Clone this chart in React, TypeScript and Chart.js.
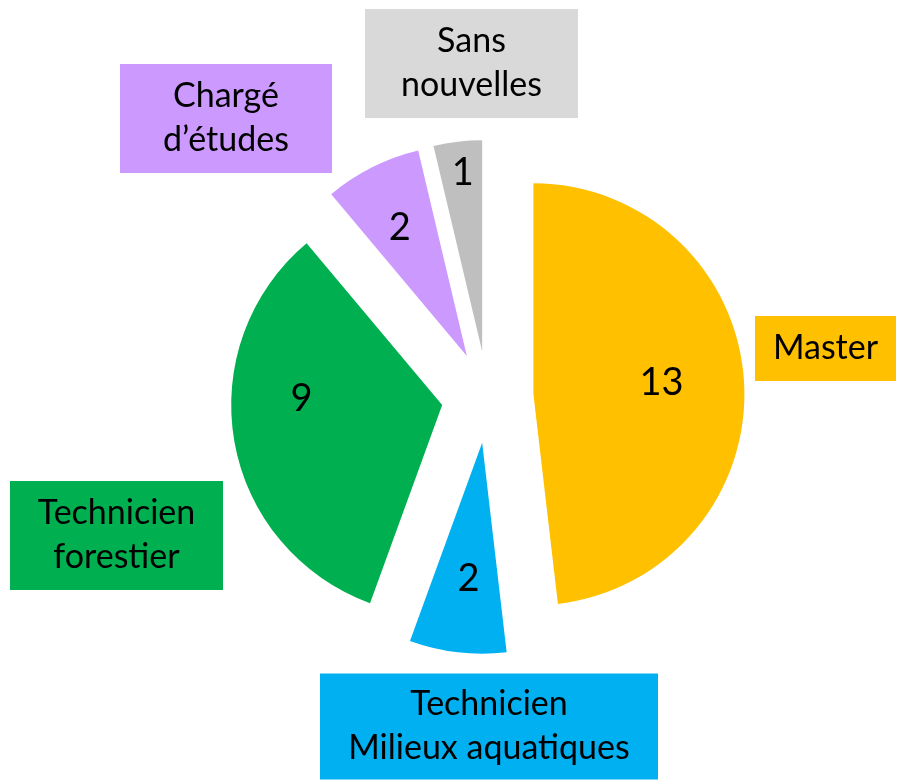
import React, { useEffect, useRef } from "react";
import { Chart, registerables } from "chart.js";

Chart.register(...registerables);

// ---- data ----
const categories = [
  "Master",
  "Technicien\nMilieux aquatiques",
  "Technicien\nforestier",
  "Chargé\nd’études",
  "Sans\nnouvelles",
];
const values = [13, 2, 9, 2, 1];

// ---- styles ----
const sliceColors = ["#FFC000", "#00B0F0", "#00B050", "#CC99FF", "#BFBFBF"];
const boxColors = ["#FFC000", "#00B0F0", "#00B050", "#CC99FF", "#D9D9D9"];
const EXPLODE = 46; // px, radial explosion of every slice
const FONT = "Lato, 'Noto Sans', sans-serif";
const LABEL_SIZE = 34;
const VALUE_SIZE = 38;
const LINE_H = 44;
// value label placement: fraction of radius, angular tweak (deg)
const valuePlacement = [
  { r: 0.61, da: -2 },
  { r: 0.65, da: -1 },
  { r: 0.667, da: 12.5 },
  { r: 0.686, da: -1 },
  { r: 0.85, da: 0.5 },
];
// category box placement relative to the pie centre (centre dx, dy, w, h)
const boxPlacement = [
  { dx: 338, dy: -48.5, w: 141, h: 65 },
  { dx: 1.5, dy: 329.5, w: 338, h: 106 },
  { dx: -371, dy: 138.5, w: 213, h: 109 },
  { dx: -261.5, dy: -278.5, w: 212, h: 109 },
  { dx: -16, dy: -333.5, w: 213, h: 109 },
];

const explodePlugin = {
  id: "explodeLabels",
  beforeDatasetsDraw(chart: any) {
    const meta = chart.getDatasetMeta(0);
    const a = chart.chartArea;
    const cx = (a.left + a.right) / 2;
    const cy = (a.top + a.bottom) / 2;
    meta.data.forEach((el: any) => {
      const mid = (el.startAngle + el.endAngle) / 2;
      el.x = cx + Math.cos(mid) * EXPLODE;
      el.y = cy + Math.sin(mid) * EXPLODE;
    });
  },
  afterDatasetsDraw(chart: any) {
    const ctx = chart.ctx;
    const meta = chart.getDatasetMeta(0);
    const a = chart.chartArea;
    const cx = (a.left + a.right) / 2;
    const cy = (a.top + a.bottom) / 2;
    ctx.save();
    ctx.textAlign = "center";
    ctx.textBaseline = "middle";
    ctx.fillStyle = "#000";
    meta.data.forEach((el: any, i: number) => {
      const p = valuePlacement[i];
      const mid = (el.startAngle + el.endAngle) / 2 + (p.da * Math.PI) / 180;
      const r = el.outerRadius * p.r;
      ctx.font = `${VALUE_SIZE}px ${FONT}`;
      ctx.fillStyle = "#000";
      ctx.fillText(String(values[i]), el.x + Math.cos(mid) * r, el.y + Math.sin(mid) * r);
    });
    categories.forEach((label, i) => {
      const b = boxPlacement[i];
      const bx = cx + b.dx;
      const by = cy + b.dy;
      ctx.fillStyle = boxColors[i];
      ctx.fillRect(bx - b.w / 2, by - b.h / 2, b.w, b.h);
      ctx.fillStyle = "#000";
      ctx.font = `${LABEL_SIZE}px ${FONT}`;
      const lines = label.split("\n");
      lines.forEach((ln, k) => {
        const y = by + (k - (lines.length - 1) / 2) * LINE_H;
        ctx.fillText(ln, bx, y);
      });
    });
    ctx.restore();
  },
};

export default function App() {
  const ref = useRef<HTMLCanvasElement>(null);
  useEffect(() => {
    if (!ref.current) return;
    const chart = new Chart(ref.current, {
      type: "pie",
      data: {
        labels: categories.map((c) => c.replace("\n", " ")),
        datasets: [
          {
            data: values,
            backgroundColor: sliceColors,
            borderWidth: 0,
          },
        ],
      },
      options: {
        responsive: false,
        animation: false,
        layout: { padding: { left: 276.5, right: 198.5, top: 186, bottom: 172 } },
        plugins: {
          legend: { display: false },
          tooltip: { enabled: false },
        },
      },
      plugins: [explodePlugin],
    });
    return () => chart.destroy();
  }, []);
  return (
    <div style={{ position: "absolute", left: 0, top: 0, width: 897, height: 780, background: "#fff" }}>
      <canvas ref={ref} width={897} height={780} />
    </div>
  );
}
